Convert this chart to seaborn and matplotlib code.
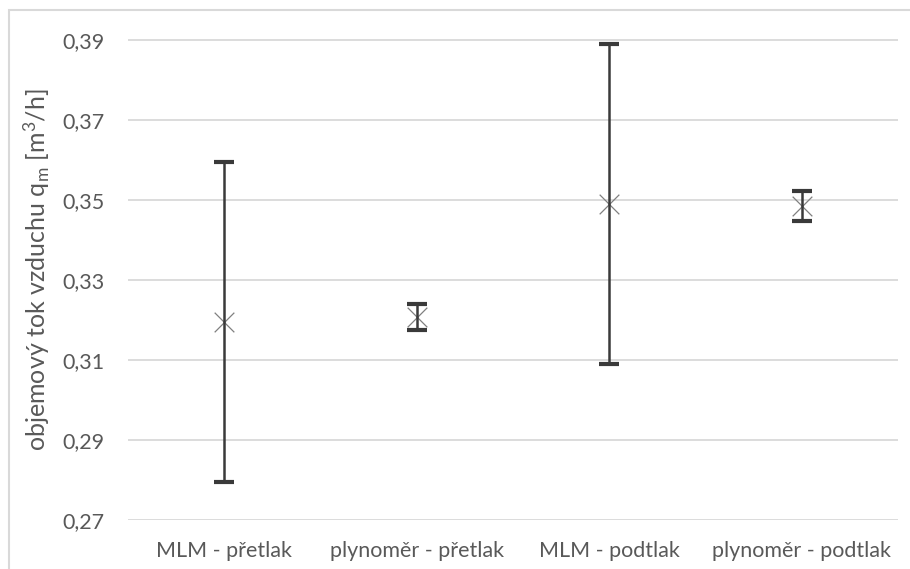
import matplotlib
matplotlib.use("Agg")
import matplotlib.pyplot as plt
import matplotlib.patches as mpatches
import seaborn as sns
import pandas as pd

# Measured flow rates with their uncertainties
categories = ["MLM - přetlak", "plynoměr - přetlak", "MLM - podtlak", "plynoměr - podtlak"]
flow_mean = [0.3195, 0.3207, 0.3490, 0.3485]
flow_err = [0.0400, 0.0033, 0.0400, 0.0037]
y_ticks = [0.27, 0.29, 0.31, 0.33, 0.35, 0.37, 0.39]
y_tick_labels = ["0,27", "0,29", "0,31", "0,33", "0,35", "0,37", "0,39"]

sns.set_theme(style="white")
plt.rcParams["font.family"] = ["Lato", "DejaVu Sans"]
plt.rcParams["mathtext.fontset"] = "custom"
plt.rcParams["mathtext.rm"] = "Lato"
plt.rcParams["mathtext.it"] = "Lato"

text_col = "#595959"
grid_col = "#d9d9d9"

df = pd.DataFrame({"kategorie": categories, "tok": flow_mean, "chyba": flow_err})

fig = plt.figure(figsize=(9.1, 5.69), dpi=100)
W, H = 910, 569
ax = fig.add_axes([128 / W, 1 - 520 / H, (898 - 128) / W, (520 - 20) / H])

# chart frame
fig.patches.append(mpatches.Rectangle((9 / W, -0.1), 1.2, 1.1 - 10 / H,
                                      transform=fig.transFigure, fill=False,
                                      edgecolor=grid_col, linewidth=1.5))

sns.scatterplot(data=df, x="kategorie", y="tok", marker="x", s=200,
                color="#808080", linewidth=0.9, ax=ax, zorder=3)
ax.errorbar(range(len(categories)), df["tok"], yerr=df["chyba"], fmt="none",
            ecolor="#3a3a3a", elinewidth=1.8, capsize=7.5, capthick=3, zorder=4)

ax.set_xlim(-0.5, len(categories) - 0.5)
ax.set_ylim(0.27, 0.395)
ax.set_yticks(y_ticks)
ax.set_yticklabels(y_tick_labels)
ax.yaxis.grid(True, color=grid_col, linewidth=1.3)
ax.set_axisbelow(True)
for s in ax.spines.values():
    s.set_visible(False)
ax.tick_params(axis="both", length=0, colors=text_col)
ax.tick_params(axis="y", pad=17, labelsize=15.5)
ax.tick_params(axis="x", pad=15, labelsize=15.5)
ax.set_xlabel("")
ax.set_ylabel(r"objemový tok vzduchu q$_{\mathrm{m}}$ [m$^{3}$/h]", color=text_col,
              fontsize=18, labelpad=7)

fig.savefig("out.png", dpi=100)
